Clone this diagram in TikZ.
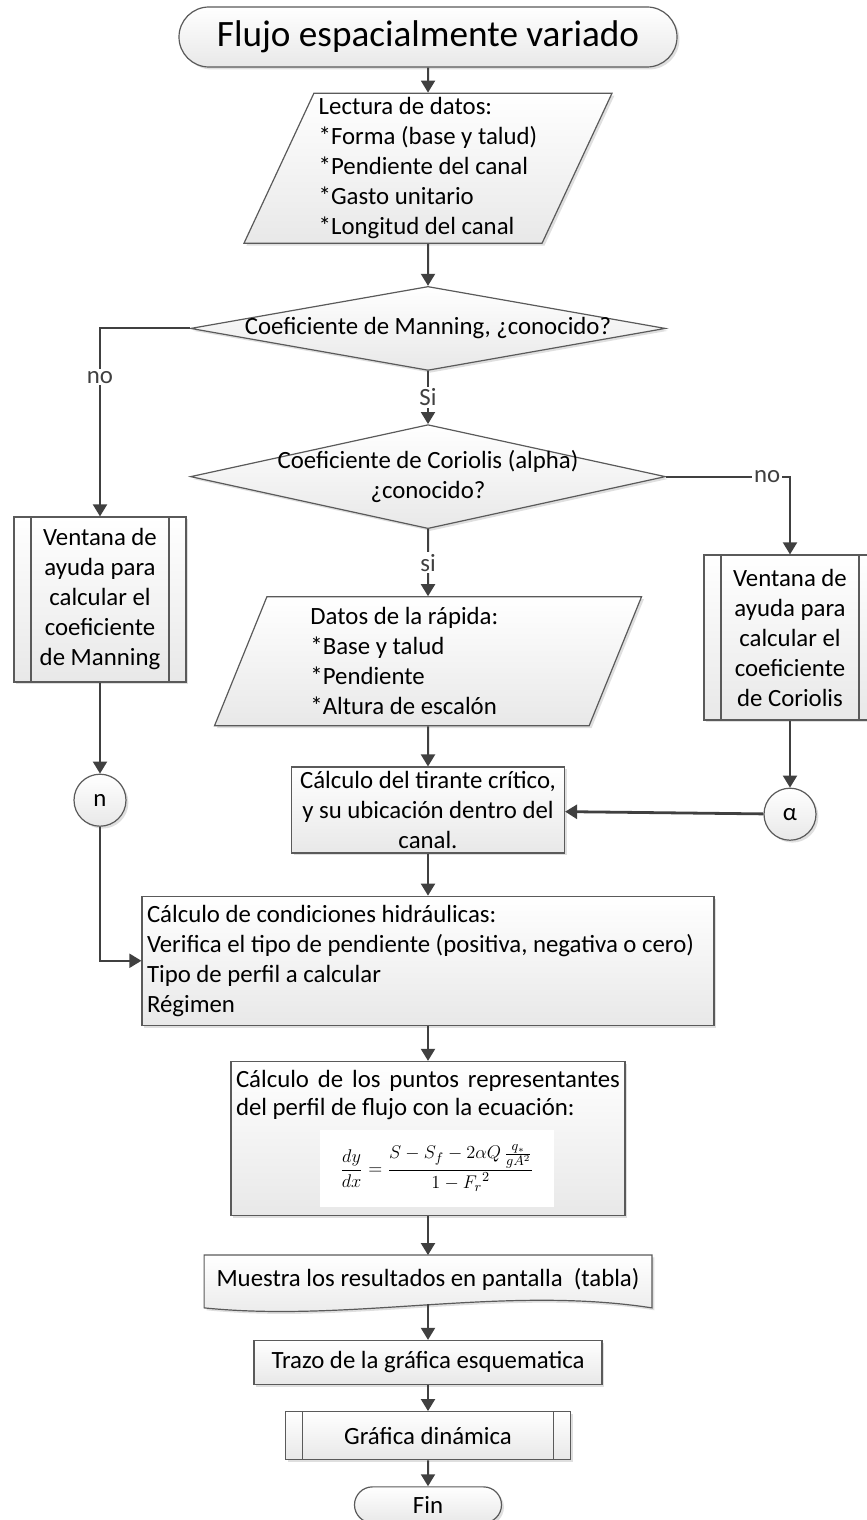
\documentclass[tikz,border=0pt]{standalone}
\usepackage{fontspec}
\setmainfont{Carlito}
\usepackage{xcolor}
\usepackage{graphicx}
\usepackage{tikz}
\usetikzlibrary{arrows.meta,positioning,shapes.geometric,shapes.misc,shadows,backgrounds}

\definecolor{linegray}{HTML}{5A5A5A}
\definecolor{arrowgray}{HTML}{404040}
\newcommand{\bodyfont}{\fontsize{12.4}{15}\selectfont}

\begin{document}
\begin{tikzpicture}[
  >={Triangle[width=7pt,length=6pt]},
  box/.style={draw=linegray, line width=0.6pt, top color=white, bottom color=black!9, drop shadow={shadow xshift=1.2pt, shadow yshift=-1.2pt, fill=black!25, opacity=0.5}, font=\bodyfont, inner sep=0pt},
  term/.style={box, rounded rectangle, minimum width=249pt, minimum height=30pt, font=\fontsize{18.6}{22}\selectfont},
  iobox/.style={box, trapezium, trapezium stretches body, align=flush left},
  decision/.style={box, diamond, inner xsep=-25pt, inner ysep=0pt, align=center},
  process/.style={box, rectangle, align=center},
  subproc/.style={process, path picture={
    \draw[linegray, line width=0.6pt] ([xshift=8.5pt]path picture bounding box.north west) -- ([xshift=8.5pt]path picture bounding box.south west)
      ([xshift=-8.5pt]path picture bounding box.north east) -- ([xshift=-8.5pt]path picture bounding box.south east);}},
  conn/.style={box, circle, minimum size=26pt},
  arrow/.style={->, line width=1pt, arrowgray},
  answer/.style={fill=white, inner sep=1pt, font=\bodyfont}
]
\useasboundingbox (0pt,0pt) rectangle (433.5pt,-760pt);

\node[term] (start) at (214pt,-18.5pt) {Flujo espacialmente variado};
\node[iobox, trapezium left angle=63.7, trapezium right angle=116.3, minimum width=184pt, minimum height=75pt, below=12.5pt of start] (lectura) {Lectura de datos:\\{*}Forma (base y talud)\\{*}Pendiente del canal\\{*}Gasto unitario\\{*}Longitud del canal};
\node[decision, minimum width=237.5pt, minimum height=42pt, aspect=5.65, below=21pt of lectura] (manq) {Coeficiente de Manning, ¿conocido?};
\node[decision, minimum width=237.5pt, minimum height=52pt, aspect=4.57, below=26.5pt of manq] (corq) {Coeficiente de Coriolis (alpha)\\¿conocido?};
\node[iobox, trapezium left angle=64, trapezium right angle=116, minimum width=213.5pt, minimum height=64.5pt, text width=117.5pt, below=33.5pt of corq] (datos) {Datos de la rápida:\\{*}Base y talud\\{*}Pendiente\\{*}Altura de escalón};
\node[process, minimum width=136.5pt, minimum height=43pt, below=20pt of datos] (tirante) {Cálculo del tirante crítico,\\y su ubicación dentro del\\canal.};
\node[process, minimum width=286pt, minimum height=64.5pt, text width=281pt, align=flush left, below=21pt of tirante] (hidra) {Cálculo de condiciones hidráulicas:\\\mbox{Verifica el tipo de pendiente (positiva, negativa o cero)}\\Tipo de perfil a calcular\\Régimen};
\node[process, minimum width=197pt, minimum height=77pt, text width=192pt, align=justify, font=\fontsize{12.4}{14}\selectfont, below=17.5pt of hidra] (puntos) {Cálculo de los puntos representantes\linebreak del perfil de flujo con la ecuación:\par\vspace{4pt}\makebox[\linewidth]{\kern9pt\colorbox{white}{\parbox[c][32.5pt][c]{111pt}{\centering\resizebox{97pt}{!}{$\displaystyle\frac{dy}{dx}=\frac{S-S_f-2\alpha Q\,\frac{q_*}{gA^2}}{1-{F_r}^2}$}}}}};
\node[font=\bodyfont, minimum width=223.5pt, minimum height=24pt, inner sep=0pt, below=19.5pt of puntos] (muestra) {Muestra los resultados en pantalla\ \ (tabla)};
\node[process, minimum width=174pt, minimum height=22pt, below=18pt of muestra] (trazo) {Trazo de la gráfica esquematica};
\node[subproc, minimum width=142.5pt, minimum height=24pt, below=13pt of trazo] (grafica) {Gráfica dinámica};
\node[term, minimum width=73.5pt, minimum height=18pt, font=\bodyfont, below=13pt of grafica] (fin) {Fin};

\node[subproc, minimum width=86pt, minimum height=82.5pt] (manbox) at (50pt,-299.75pt) {Ventana de\\ayuda para\\calcular el\\coeficiente\\de Manning};
\node[conn, below=45.5pt of manbox] (nconn) {n};
\node[subproc, minimum width=86pt, minimum height=82.5pt] (corbox) at (395pt,-318.75pt) {Ventana de\\ayuda para\\calcular el\\coeficiente\\de Coriolis};
\node[conn, below=33.5pt of corbox] (aconn) {α};

\begin{scope}[on background layer]
\path[box] (muestra.north west) -- (muestra.north east) -- ([yshift=-2pt]muestra.south east)
  .. controls ([xshift=-75pt,yshift=9.5pt]muestra.south east) and ([xshift=73.5pt,yshift=-9.5pt]muestra.south west) .. ([yshift=-2pt]muestra.south west) -- cycle;
\end{scope}

\draw[arrow] (start) -- (lectura);
\draw[arrow] (lectura) -- (manq);
\draw[arrow] (manq) -- node[answer]{Si} (corq);
\draw[arrow] (manq.west) -| node[answer, pos=0.63]{no} (manbox.north);
\draw[arrow] (corq) -- node[answer]{si} (datos);
\draw[arrow] (corq.east) -| node[answer, pos=0.408]{no} (corbox.north);
\draw[arrow] (manbox) -- (nconn);
\draw[arrow] (corbox) -- (aconn);
\draw[arrow] (datos) -- (tirante);
\draw[arrow, line width=1.4pt] (aconn) -- (tirante);
\draw[arrow] (tirante) -- (hidra);
\draw[arrow] (nconn) |- (hidra.west);
\draw[arrow] (hidra) -- (puntos);
\draw[arrow] (puntos) -- (muestra);
\draw[arrow] (muestra) -- (trazo);
\draw[arrow] (trazo) -- (grafica);
\draw[arrow] (grafica) -- (fin);

\end{tikzpicture}
\end{document}
